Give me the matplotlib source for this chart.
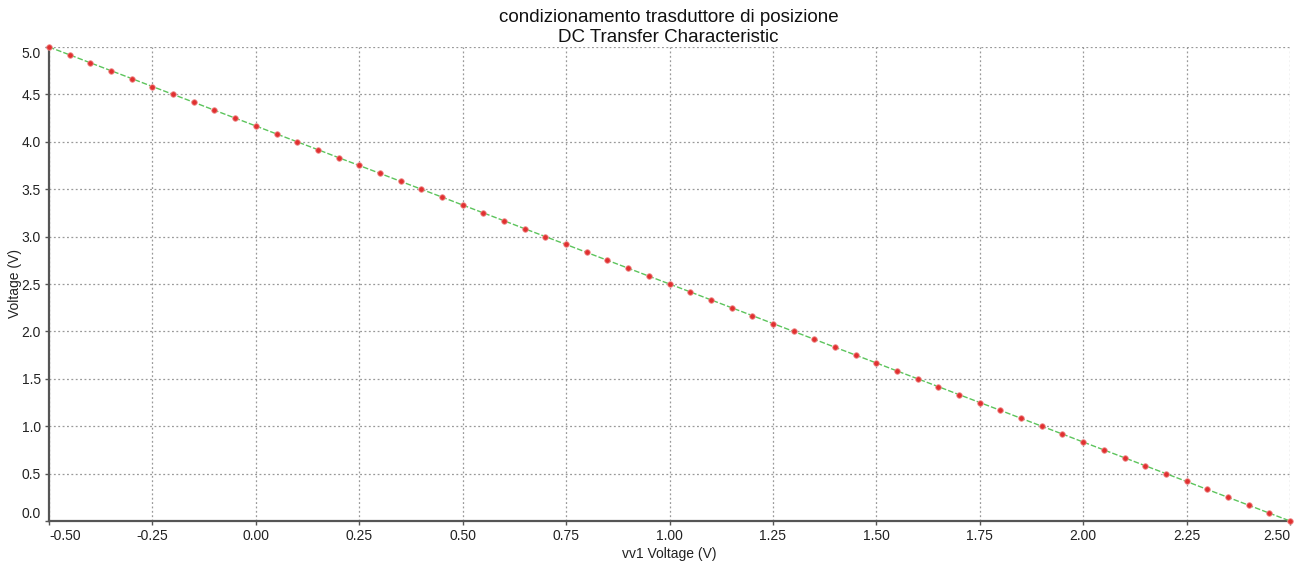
import matplotlib
matplotlib.use("Agg")
import matplotlib.pyplot as plt

plt.rcParams['font.family'] = ['Liberation Sans', 'DejaVu Sans']

vv1 = [-0.50, -0.45, -0.40, -0.35, -0.30, -0.25, -0.20, -0.15, -0.10, -0.05,
       0.00, 0.05, 0.10, 0.15, 0.20, 0.25, 0.30, 0.35, 0.40, 0.45,
       0.50, 0.55, 0.60, 0.65, 0.70, 0.75, 0.80, 0.85, 0.90, 0.95,
       1.00, 1.05, 1.10, 1.15, 1.20, 1.25, 1.30, 1.35, 1.40, 1.45,
       1.50, 1.55, 1.60, 1.65, 1.70, 1.75, 1.80, 1.85, 1.90, 1.95,
       2.00, 2.05, 2.10, 2.15, 2.20, 2.25, 2.30, 2.35, 2.40, 2.45, 2.50]
vout = [5.000, 4.917, 4.833, 4.750, 4.667, 4.583, 4.500, 4.417, 4.333, 4.250,
        4.167, 4.083, 4.000, 3.917, 3.833, 3.750, 3.667, 3.583, 3.500, 3.417,
        3.333, 3.250, 3.167, 3.083, 3.000, 2.917, 2.833, 2.750, 2.667, 2.583,
        2.500, 2.417, 2.333, 2.250, 2.167, 2.083, 2.000, 1.917, 1.833, 1.750,
        1.667, 1.583, 1.500, 1.417, 1.333, 1.250, 1.167, 1.083, 1.000, 0.917,
        0.833, 0.750, 0.667, 0.583, 0.500, 0.417, 0.333, 0.250, 0.167, 0.083, 0.000]

xticks = [-0.50, -0.25, 0.00, 0.25, 0.50, 0.75, 1.00, 1.25, 1.50, 1.75, 2.00, 2.25, 2.50]
yticks = [0.0, 0.5, 1.0, 1.5, 2.0, 2.5, 3.0, 3.5, 4.0, 4.5, 5.0]

fig = plt.figure(figsize=(12.97, 5.63), dpi=100)
ax = fig.add_axes([49/1297, 1 - 521/563, (1290 - 49)/1297, (521 - 47)/563])

ax.plot(vv1, vout, color='#5cc45c', lw=1.0, ls=(0, (4, 1.5)),
        marker='o', ms=4, mfc='#e03030', mec='#f09090', mew=0.6, clip_on=False, zorder=3)

ax.set_xlim(-0.5, 2.5)
ax.set_ylim(0, 5)
ax.set_xticks(xticks)
ax.set_xticklabels([f"{t:.2f}" for t in xticks])
ax.set_yticks(yticks)
ax.set_yticklabels([f"{t:.1f}" for t in yticks])

for s in ['top', 'right']:
    ax.spines[s].set_visible(False)
for s in ['left', 'bottom']:
    ax.spines[s].set_color('#555555')
    ax.spines[s].set_linewidth(1.6)

ax.grid(True, color='#999999', ls=(0, (1.5, 2)), lw=0.9)
ax.tick_params(axis='both', length=3, width=1, color='#555555', labelsize=10, labelcolor='#222222', pad=3)

xl = ax.get_xticklabels()
xl[0].set_horizontalalignment('left')
xl[-1].set_horizontalalignment('right')
yl = ax.get_yticklabels()
yl[0].set_verticalalignment('bottom')
yl[-1].set_verticalalignment('top')

ax.set_xlabel('vv1 Voltage (V)', fontsize=10, color='#222222')
ax.set_ylabel('Voltage (V)', fontsize=10, color='#222222')
ax.xaxis.set_label_coords(0.5, (521 - 547) / 474)
ax.yaxis.set_label_coords((22 - 49) / 1241, 0.5)
fig.text(0.5153, 1 - 27.5/563, 'condizionamento trasduttore di posizione\nDC Transfer Characteristic',
         ha='center', va='center', fontsize=13.5, color='#111111', linespacing=1.25)

fig.savefig('out.png', dpi=100, facecolor='white')
